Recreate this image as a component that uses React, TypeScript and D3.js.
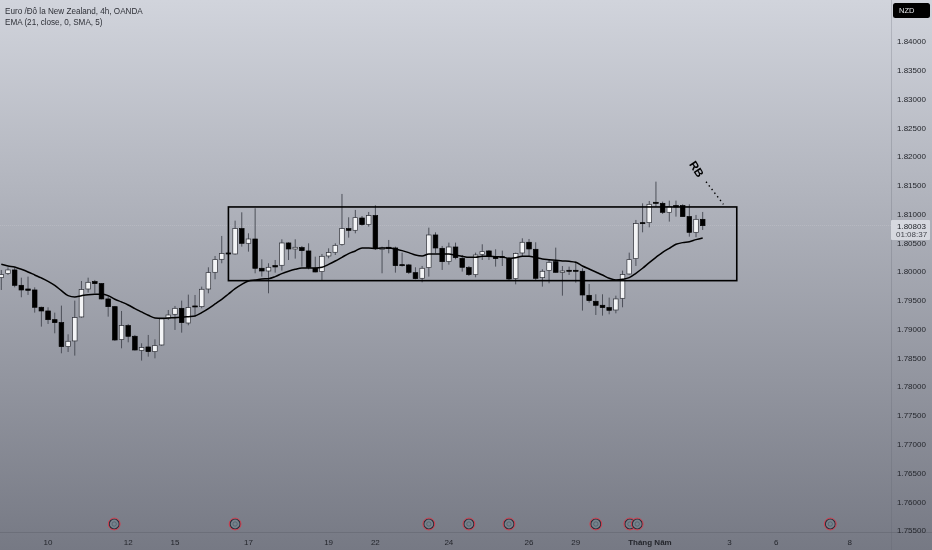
import React from "react";
import * as d3 from "d3";

const W = 932, H = 550;

const opens = [1.79895,1.79965,1.80029,1.79762,1.79698,1.79681,1.7938,1.79316,1.79165,1.79113,1.78696,1.78795,1.79212,1.79698,1.79826,1.79791,1.79525,1.79391,1.78818,1.79061,1.78876,1.78632,1.7869,1.78609,1.78725,1.79194,1.79258,1.79362,1.79107,1.79403,1.79391,1.79698,1.79988,1.80214,1.80324,1.80307,1.80747,1.80492,1.80567,1.80058,1.80011,1.80104,1.8011,1.80498,1.80394,1.80417,1.80359,1.80058,1.8,1.80272,1.80336,1.80469,1.80747,1.80718,1.80932,1.80822,1.80973,1.80388,1.80423,1.80411,1.80121,1.80116,1.79982,1.79884,1.80069,1.80637,1.80405,1.80179,1.80428,1.80231,1.80069,1.79948,1.80301,1.80359,1.8026,1.8026,1.80226,1.79878,1.80324,1.8051,1.80388,1.79895,1.80017,1.80173,1.79988,1.80023,1.80023,1.80006,1.79588,1.79484,1.79415,1.79374,1.79333,1.79536,1.79959,1.80226,1.80851,1.80851,1.81205,1.81187,1.81031,1.81147,1.81147,1.80956,1.80683,1.80909];
const highs = [1.80029,1.80075,1.80075,1.79895,1.79913,1.79727,1.79391,1.7938,1.79287,1.79409,1.7891,1.79496,1.79837,1.79895,1.79855,1.79797,1.79594,1.79403,1.79316,1.7909,1.78899,1.78754,1.78899,1.78823,1.79188,1.79333,1.79403,1.79496,1.796,1.79594,1.79739,1.80075,1.80272,1.8062,1.80353,1.80886,1.81031,1.80666,1.81101,1.80214,1.80145,1.80202,1.80562,1.8051,1.80562,1.80446,1.80492,1.8026,1.80307,1.80405,1.80492,1.8135,1.80944,1.81072,1.80967,1.81037,1.81153,1.80434,1.8055,1.80434,1.8033,1.80133,1.80075,1.80098,1.80764,1.80683,1.80446,1.80504,1.80504,1.80289,1.80098,1.8033,1.80475,1.80376,1.80388,1.80365,1.80249,1.8033,1.80579,1.80567,1.8051,1.8004,1.80214,1.80417,1.80098,1.80087,1.80173,1.80058,1.79785,1.79606,1.79606,1.79548,1.79582,1.80017,1.8033,1.80898,1.81187,1.81228,1.81564,1.81216,1.81234,1.81234,1.8117,1.8117,1.80985,1.81037];
const lows = [1.79681,1.79942,1.79727,1.79554,1.79594,1.79287,1.79044,1.7909,1.78928,1.7858,1.78603,1.7854,1.792,1.79635,1.79623,1.79519,1.79217,1.78795,1.78667,1.78771,1.78627,1.78453,1.78522,1.78493,1.78713,1.7916,1.78986,1.78939,1.79067,1.79217,1.79362,1.79623,1.79866,1.80145,1.80278,1.80295,1.80434,1.80347,1.79971,1.79913,1.79623,1.79982,1.80017,1.80202,1.80226,1.80087,1.8004,1.79988,1.79855,1.80231,1.80289,1.80452,1.80591,1.80666,1.80799,1.80782,1.80376,1.79971,1.80318,1.79982,1.80087,1.79959,1.79866,1.79814,1.79913,1.80318,1.80029,1.80121,1.80214,1.8,1.79924,1.79901,1.80202,1.80202,1.80087,1.80098,1.79855,1.79779,1.80272,1.80272,1.79855,1.79739,1.79797,1.79982,1.79582,1.79942,1.79808,1.79322,1.79461,1.79246,1.79235,1.79258,1.79275,1.7938,1.79948,1.80098,1.80683,1.8077,1.81129,1.81002,1.80869,1.80956,1.80956,1.80608,1.80597,1.80724];
const closes = [1.79948,1.80029,1.79762,1.79681,1.79675,1.7938,1.79316,1.79165,1.79113,1.78696,1.78789,1.792,1.79687,1.79814,1.79791,1.79525,1.79391,1.78812,1.79061,1.78876,1.78638,1.78679,1.78609,1.78713,1.79177,1.79246,1.79362,1.79113,1.79374,1.79386,1.79693,1.79982,1.80208,1.80313,1.80307,1.80747,1.80492,1.80567,1.80058,1.80011,1.80075,1.80081,1.80498,1.80394,1.80423,1.80365,1.80075,1.79994,1.80266,1.8033,1.80457,1.80747,1.80718,1.80938,1.80817,1.80973,1.80405,1.80411,1.804,1.80104,1.8011,1.79988,1.79878,1.80058,1.80637,1.80411,1.80173,1.80428,1.80243,1.80075,1.79948,1.80289,1.80347,1.8026,1.80226,1.80243,1.79872,1.80313,1.8051,1.80394,1.79884,1.80006,1.80162,1.79988,1.80011,1.80006,1.80006,1.79594,1.79496,1.79415,1.79374,1.79328,1.79525,1.79948,1.80208,1.80834,1.80834,1.8117,1.81187,1.81031,1.81129,1.81124,1.80956,1.80683,1.80909,1.80799];
const emaValues = [1.80127,1.80098,1.80081,1.8004,1.79994,1.79942,1.7989,1.79832,1.79762,1.79669,1.79582,1.79559,1.79582,1.796,1.79606,1.79606,1.79582,1.79519,1.79472,1.7942,1.79357,1.79299,1.79241,1.79194,1.79188,1.79194,1.792,1.79206,1.79217,1.79229,1.79287,1.79357,1.79438,1.79519,1.79611,1.79704,1.79779,1.79837,1.79855,1.79872,1.79878,1.79913,1.79965,1.80006,1.8004,1.80063,1.80063,1.80063,1.80075,1.80127,1.80185,1.80249,1.80313,1.80359,1.80411,1.80411,1.804,1.80411,1.80411,1.80394,1.80365,1.8033,1.80289,1.80272,1.80307,1.80307,1.80307,1.80307,1.80284,1.80266,1.80249,1.80249,1.80266,1.80266,1.8026,1.80255,1.80231,1.80243,1.80266,1.80266,1.80243,1.8022,1.80208,1.80197,1.80185,1.80179,1.80162,1.80098,1.80046,1.79994,1.79942,1.79884,1.79855,1.79866,1.79895,1.79971,1.80058,1.80156,1.80249,1.80336,1.80405,1.80475,1.80504,1.80521,1.80556,1.80585];

const priceTicks = [1.84,1.835,1.83,1.825,1.82,1.815,1.81,1.805,1.8,1.795,1.79,1.785,1.78,1.775,1.77,1.765,1.76,1.755];
const timeIndex = [7,19,26,37,49,56,67,79,86,97.1,109,116,127];
const timeLabels = ["10","12","15","17","19","22","24","26","29","Tháng Năm","3","6","8"];
const eventIndex = [16.9,35,64,70,76,89,94.1,95.2,124.1];
const boxRange = { startIndex: 34, endIndex: 110.1, top: 1.81124, bottom: 1.79843 };
const lastPrice = 1.80803;
const rbLine = { i0: 105.5, i1: 108.1, p0: 1.81563, p1: 1.8117 };
const rbLabel = { index: 104.1, price: 1.81784 };

const x = d3.scaleLinear().domain([0, 1]).range([1.3, 7.98]);
const y = d3.scaleLinear().domain([1.84, 1.755]).range([41.5, 530.5]);
const FONT = "'Liberation Sans', Arial, sans-serif";

export default function App() {
  const emaPath = d3.line<number>().x((_, i) => x(i)).y((d) => y(d)).curve(d3.curveMonotoneX)(emaValues) ?? "";
  return (
    <svg width={W} height={H} style={{ position: "absolute", left: 0, top: 0, display: "block", filter: "blur(0.3px)" }} fontFamily={FONT}>
      <defs>
        <linearGradient id="bg" x1="0" y1="0" x2="0" y2="1">
          <stop offset="0" stopColor="#d1d4dc" />
          <stop offset="1" stopColor="#767984" />
        </linearGradient>
        <clipPath id="plot"><rect x={0} y={0} width={891} height={532} /></clipPath>
      </defs>
      <rect width={W} height={H} fill="url(#bg)" />
      <line x1={891.5} x2={891.5} y1={0} y2={H} stroke="#5d606b" strokeOpacity={0.25} />
      <line x1={0} x2={W} y1={532.5} y2={532.5} stroke="#5d606b" strokeOpacity={0.45} />
      <line x1={0} x2={891} y1={y(lastPrice)} y2={y(lastPrice)} stroke="#ffffff" strokeOpacity={0.15} strokeDasharray="1 1" />

      <g clipPath="url(#plot)">
        {opens.map((o, i) => {
          const c = closes[i];
          const up = c >= o;
          const top = y(Math.max(o, c));
          const h = Math.max(1, Math.abs(y(o) - y(c)));
          return (
            <g key={i}>
              <line x1={x(i)} x2={x(i)} y1={y(highs[i])} y2={y(lows[i])} stroke="#4d5059" strokeWidth={1} />
              <rect x={x(i) - 2.3} width={4.6} y={top} height={h} fill={up ? "#f3f4f6" : "#000000"} stroke={up ? "#2e3037" : "#000000"} strokeWidth={0.7} />
            </g>
          );
        })}
        <path d={emaPath} fill="none" stroke="#000000" strokeWidth={1.5} />
        <rect x={x(boxRange.startIndex)} y={y(boxRange.top)} width={x(boxRange.endIndex) - x(boxRange.startIndex)} height={y(boxRange.bottom) - y(boxRange.top)} fill="none" stroke="#000000" strokeWidth={1.6} />
        <line x1={x(rbLine.i0)} y1={y(rbLine.p0)} x2={x(rbLine.i1)} y2={y(rbLine.p1)} stroke="#000000" strokeWidth={1.4} strokeDasharray="1.4 3.2" />
        <text transform={`translate(${x(rbLabel.index)},${y(rbLabel.price)}) rotate(57)`} textAnchor="middle" dominantBaseline="central" fontSize={11.5} fontWeight={700} fill="#000000">RB</text>
      </g>

      <text x={5} y={13.5} fontSize={8.15} fill="#2f3138">Euro /Đô la New Zealand, 4h, OANDA</text>
      <text x={5} y={24.5} fontSize={8.15} fill="#2f3138">EMA (21, close, 0, SMA, 5)</text>

      {eventIndex.map((e, i) => (
        <g key={i} transform={`translate(${x(e)},524)`}>
          <circle r={5} fill="#76838c" stroke="#2b2f3b" strokeWidth={1.2} />
          <circle r={5.9} fill="none" stroke="#d9394a" strokeWidth={0.9} />
          <circle r={2.2} fill="none" stroke="#4f5a68" strokeWidth={0.7} />
        </g>
      ))}

      {timeIndex.map((t, i) => (
        <text key={i} x={x(t)} y={544.5} textAnchor="middle" fontSize={8} fontWeight={i === 9 ? 700 : 400} fill="#24262c">{timeLabels[i]}</text>
      ))}

      {priceTicks.map((p) => (
        <text key={p} x={897} y={y(p) + 2.8} fontSize={8} fill="#24262c">{p.toFixed(5)}</text>
      ))}

      <rect x={893} y={3} width={37} height={15} rx={2.5} fill="#000000" />
      <text x={899} y={13} fontSize={7.5} fill="#e6e7ec">NZD</text>

      <rect x={891} y={220} width={39} height={20} rx={1} fill="#d6d8df" />
      <text x={897} y={228.5} fontSize={8} fill="#24262c">{lastPrice.toFixed(5)}</text>
      <text x={896} y={237} fontSize={8} fill="#44464e">01:08:37</text>
    </svg>
  );
}
